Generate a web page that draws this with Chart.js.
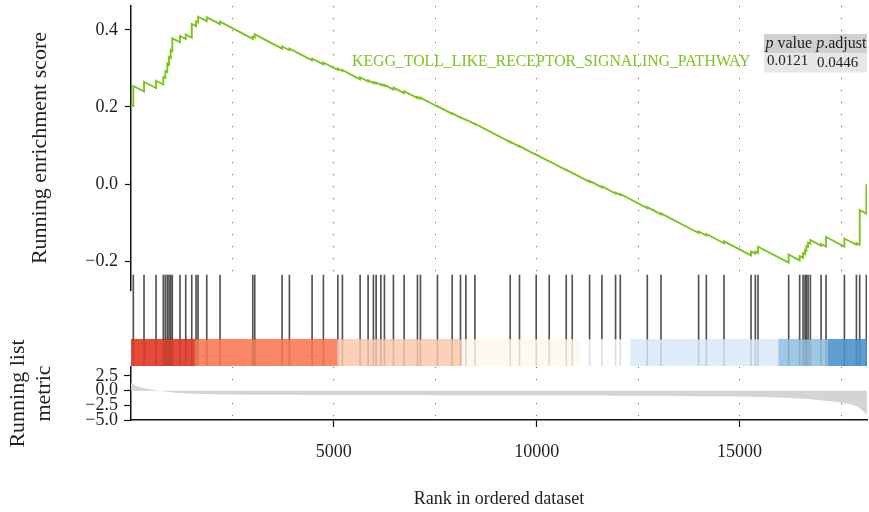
<!DOCTYPE html>
<html>
<head>
<meta charset="utf-8">
<script src="https://cdn.jsdelivr.net/npm/chart.js@4.4.0/dist/chart.umd.min.js"></script>
<style>
  html, body { margin: 0; padding: 0; background: #ffffff; }
  #wrap { position: relative; width: 869px; height: 512px; overflow: hidden; }
  #wrap canvas { position: absolute; left: 0; }
</style>
</head>
<body>
<div id="wrap">
  <canvas id="esPanel" width="869" height="292" style="top:0px"></canvas>
  <canvas id="hitPanel" width="869" height="95" style="top:272px"></canvas>
  <canvas id="metricPanel" width="869" height="212" style="top:300px"></canvas>
</div>
<script>
// ---- gene set summary ----
const geneSetName = 'KEGG_TOLL_LIKE_RECEPTOR_SIGNALING_PATHWAY';
const pValue = '0.0121';
const pAdjust = '0.0446';
const totalGenes = 18140;

// ---- positions of gene-set members in the ranked list ----
const hitRank = [57, 321, 617, 797, 846, 895, 937, 979, 1018, 1208, 1349, 1497, 1603, 1652, 1867, 2195,
  3001, 3050, 3724, 3904, 4463, 4742, 5097, 5211, 5647, 5844, 5975, 6042, 6158, 6246, 6468, 6732,
  7060, 7134, 7553, 7916, 8121, 8254, 8476, 9346, 9575, 9987, 10308, 10727, 10875, 11302, 11607,
  11943, 12059, 12725, 13062, 13990, 14180, 14616, 15282, 15388, 15454, 16209, 16480, 16564, 16613,
  16646, 16688, 16744, 17008, 17131, 17583, 17879, 17960, 18125];

// ---- running enrichment score just before / just after each member ----
const esStartScore = 0.2026;
const esEndScore = 0;
const esBeforeHit = [0.2026, 0.2403, 0.2494, 0.2584, 0.2753, 0.2909, 0.3104, 0.3273, 0.3455, 0.3681,
  0.3766, 0.3803, 0.4099, 0.4195, 0.4229, 0.4151, 0.3771, 0.3805, 0.3517, 0.3473, 0.3210, 0.3106,
  0.2961, 0.2938, 0.2719, 0.2662, 0.2621, 0.2610, 0.2571, 0.2548, 0.2452, 0.2358, 0.2229, 0.2218,
  0.2013, 0.1821, 0.1722, 0.1662, 0.1553, 0.1086, 0.0971, 0.0758, 0.0587, 0.0361, 0.0286, 0.0055,
  -0.0088, -0.0247, -0.0286, -0.0626, -0.0787, -0.1273, -0.1338, -0.1540, -0.1855, -0.1810, -0.1790,
  -0.2044, -0.1982, -0.1917, -0.1818, -0.1732, -0.1634, -0.1551, -0.1600, -0.1626, -0.1626, -0.1579,
  -0.1577, -0.0766];
const esAfterHit = [0.2545, 0.2657, 0.2683, 0.2779, 0.2935, 0.3130, 0.3299, 0.3481, 0.3784, 0.3844,
  0.3883, 0.4156, 0.4221, 0.4345, 0.4330, 0.4216, 0.3831, 0.3888, 0.3571, 0.3519, 0.3260, 0.3156,
  0.3000, 0.2961, 0.2771, 0.2694, 0.2647, 0.2636, 0.2597, 0.2574, 0.2504, 0.2410, 0.2260, 0.2244,
  0.2021, 0.1834, 0.1735, 0.1675, 0.1566, 0.1099, 0.0984, 0.0763, 0.0592, 0.0366, 0.0291, 0.0081,
  -0.0062, -0.0221, -0.0260, -0.0600, -0.0761, -0.1234, -0.1299, -0.1488, -0.1753, -0.1753, -0.1629,
  -0.1831, -0.1870, -0.1792, -0.1714, -0.1610, -0.1519, -0.1455, -0.1558, -0.1377, -0.1416, -0.1532,
  -0.0675, -0.0052];

// ---- colour strip of the ranked list (rank breaks and fills) ----
const stripBreaks = [0, 1578, 5080, 8162, 11072, 12305, 15955, 17163, 18140];
const stripColors = ['#e64a38', '#fc8764', '#fdd0ba', '#fff8f0', '#ffffff', '#deebf8', '#9ec8e6', '#5e9ed0'];

// ---- ranked list metric ----
const metricRank = [0, 60, 150, 300, 500, 800, 1200, 2000, 3500, 6000, 9000, 12000, 14500, 15500,
  16500, 17300, 17600, 17900, 18050, 18140];
const metricValue = [1.35, 1.05, 0.75, 0.45, 0.2, -0.1, -0.4, -0.6, -0.7, -0.75, -0.8, -0.85, -0.95,
  -1.1, -1.35, -1.85, -2.15, -2.7, -3.5, -4.1];

// ---- axis ticks ----
const esTicks = [-0.2, 0, 0.2, 0.4];
const metricTicks = [-5, -2.5, 0, 2.5];
const rankTicks = [5000, 10000, 15000];
const rankGrid = [2500, 5000, 7500, 10000, 12500, 15000, 17500];

// ---- styling ----
const SERIF = '"Liberation Serif", "DejaVu Serif", serif';
const GREEN = '#7cc41e';
const TEXT = '#1e1e1e';
const AXIS_W = 131;
Chart.defaults.font.family = SERIF;
Chart.defaults.color = TEXT;

const fmtTick = v => (v < 0 ? '\u2212' : '') + Math.abs(v).toFixed(1);
const setTicks = list => scale => { scale.ticks = list.map(v => ({ value: v })); };
// fixed-width y axis, no extra room reserved for the end labels
const fixWidth = scale => { scale.width = AXIS_W; scale.paddingTop = 0; scale.paddingBottom = 0; };
const common = {
  responsive: false,
  animation: false,
  devicePixelRatio: 1,
  events: [],
};

// running enrichment score line, built from the per-member scores
const esPoints = [{ x: 0, y: esStartScore }];
hitRank.forEach((r, i) => {
  esPoints.push({ x: r, y: esBeforeHit[i] });
  esPoints.push({ x: r, y: esAfterHit[i] });
});
esPoints.push({ x: totalGenes, y: esEndScore });

// gene-set name and p-value table in the score panel
const esAnnotations = {
  id: 'esAnnotations',
  afterDraw(chart) {
    const ctx = chart.ctx;
    ctx.save();
    ctx.textBaseline = 'middle';
    ctx.textAlign = 'left';
    ctx.font = '15.8px ' + SERIF;
    ctx.fillStyle = GREEN;
    ctx.fillText(geneSetName, 352, 62);

    ctx.fillStyle = '#d1cfcf';
    ctx.fillRect(764, 34, 103, 19.5);
    ctx.fillStyle = '#e7e7e7';
    ctx.fillRect(764, 53.5, 103, 19);

    ctx.fillStyle = TEXT;
    const parts = [['p', true], [' value ', false], ['p', true], ['.adjust', false]];
    let x = 765.5;
    parts.forEach(([t, it]) => {
      ctx.font = (it ? 'italic ' : '') + '16px ' + SERIF;
      ctx.fillText(t, x, 43.5);
      x += ctx.measureText(t).width;
    });
    ctx.font = '15px ' + SERIF;
    ctx.fillText(pValue, 767, 61.5);
    ctx.fillText(pAdjust, 817, 63);
    ctx.restore();
  }
};

// plain white backing behind the member marks
const stripBacking = {
  id: 'stripBacking',
  beforeDatasetsDraw(chart) {
    const { ctx, chartArea } = chart;
    ctx.save();
    ctx.fillStyle = '#ffffff';
    ctx.fillRect(chartArea.left + 1, chartArea.top, chartArea.right - chartArea.left, chartArea.bottom - chartArea.top);
    ctx.restore();
  }
};

// top panel: running enrichment score
new Chart(document.getElementById('esPanel'), {
  type: 'line',
  data: {
    datasets: [{
      data: esPoints,
      borderColor: GREEN,
      borderWidth: 1.9,
      pointRadius: 0,
      tension: 0,
      fill: false
    }]
  },
  options: {
    ...common,
    layout: { padding: { left: 0, right: 2, top: 6, bottom: 2 } },
    plugins: { legend: { display: false }, tooltip: { enabled: false } },
    scales: {
      x: {
        type: 'linear', min: 0, max: totalGenes,
        afterBuildTicks: setTicks(rankGrid),
        afterFit: s => { s.height = 0; s.paddingLeft = 0; s.paddingRight = 0; },
        ticks: { display: false },
        grid: { drawTicks: false, color: '#6e6e6e', lineWidth: 1 },
        border: { display: false, dash: [1.2, 10.8] }
      },
      y: {
        type: 'linear', min: -0.2753, max: 0.4623,
        afterBuildTicks: setTicks(esTicks),
        afterFit: fixWidth,
        ticks: { autoSkip: false, font: { size: 18 }, color: TEXT, padding: 7, callback: v => fmtTick(v) },
        grid: { drawOnChartArea: false, tickLength: 6, tickColor: '#111', tickWidth: 1.2 },
        border: { color: '#111', width: 1.5 },
        title: { display: true, text: 'Running enrichment score', font: { size: 22 }, color: TEXT, padding: { top: 26.8, bottom: 0 } }
      }
    }
  },
  plugins: [esAnnotations]
});

// middle panel: member positions and colour strip
new Chart(document.getElementById('hitPanel'), {
  type: 'bar',
  data: {
    datasets: [
      {
        type: 'line',
        data: stripBreaks.map(b => ({ x: b, y: 0.153 })),
        borderColor: stripColors[0],
        borderWidth: 27,
        borderCapStyle: 'butt',
        pointRadius: 0,
        tension: 0,
        fill: false,
        segment: { borderColor: ctx => stripColors[ctx.p0DataIndex] },
        order: 3
      },
      {
        type: 'bar',
        data: hitRank.map(r => ({ x: r, y: [0.012, 0.295] })),
        backgroundColor: 'rgba(0,0,0,0.13)',
        barThickness: 1,
        grouped: false,
        order: 2
      },
      {
        type: 'bar',
        data: hitRank.map(r => ({ x: r, y: [0.295, 0.968] })),
        backgroundColor: 'rgba(0,0,0,0.68)',
        barThickness: 1,
        grouped: false,
        order: 1
      }
    ]
  },
  options: {
    ...common,
    layout: { padding: { left: AXIS_W, right: 2, top: 0, bottom: 0 } },
    plugins: { legend: { display: false }, tooltip: { enabled: false } },
    scales: {
      x: { type: 'linear', min: 0, max: totalGenes, offset: false, display: false },
      y: { type: 'linear', min: 0, max: 1, display: false }
    }
  },
  plugins: [stripBacking]
});

// bottom panel: ranked list metric
new Chart(document.getElementById('metricPanel'), {
  type: 'line',
  data: {
    datasets: [{
      data: metricRank.map((r, i) => ({ x: r, y: metricValue[i] })),
      borderColor: 'rgba(0,0,0,0)',
      borderWidth: 1,
      backgroundColor: '#d4d4d4',
      pointRadius: 0,
      tension: 0.3,
      fill: 'origin'
    }]
  },
  options: {
    ...common,
    layout: { padding: { left: 0, right: 2, top: 67, bottom: 0 } },
    plugins: { legend: { display: false }, tooltip: { enabled: false } },
    scales: {
      x: {
        type: 'linear', min: 0, max: totalGenes,
        afterBuildTicks: setTicks(rankGrid),
        afterFit: s => { s.height = 92; s.paddingLeft = 0; s.paddingRight = 0; },
        ticks: {
          autoSkip: false, maxRotation: 0, padding: 14, font: { size: 18 }, color: TEXT,
          callback: v => rankTicks.includes(v) ? String(v) : ''
        },
        grid: {
          color: '#6e6e6e', lineWidth: 1, tickLength: 7, tickWidth: 1.2,
          tickColor: ctx => rankTicks.includes(ctx.tick && ctx.tick.value) ? '#111' : 'rgba(0,0,0,0)'
        },
        border: { color: '#111', width: 1.5, dash: [1.2, 10.8] },
        title: { display: true, text: 'Rank in ordered dataset', font: { size: 18 }, color: TEXT, padding: { top: 0, bottom: 2 } }
      },
      y: {
        type: 'linear', min: -5, max: 4.03,
        afterBuildTicks: setTicks(metricTicks),
        afterFit: fixWidth,
        ticks: { autoSkip: false, font: { size: 18 }, color: TEXT, padding: 6, callback: v => fmtTick(v) },
        grid: { drawOnChartArea: false, tickLength: 7, tickColor: '#111', tickWidth: 1.2 },
        border: { color: '#111', width: 1.5 },
        title: { display: true, text: ['Running list', 'metric'], font: { size: 22 }, color: TEXT, padding: { top: 4.8, bottom: 0 } }
      }
    }
  }
});
</script>
</body>
</html>
